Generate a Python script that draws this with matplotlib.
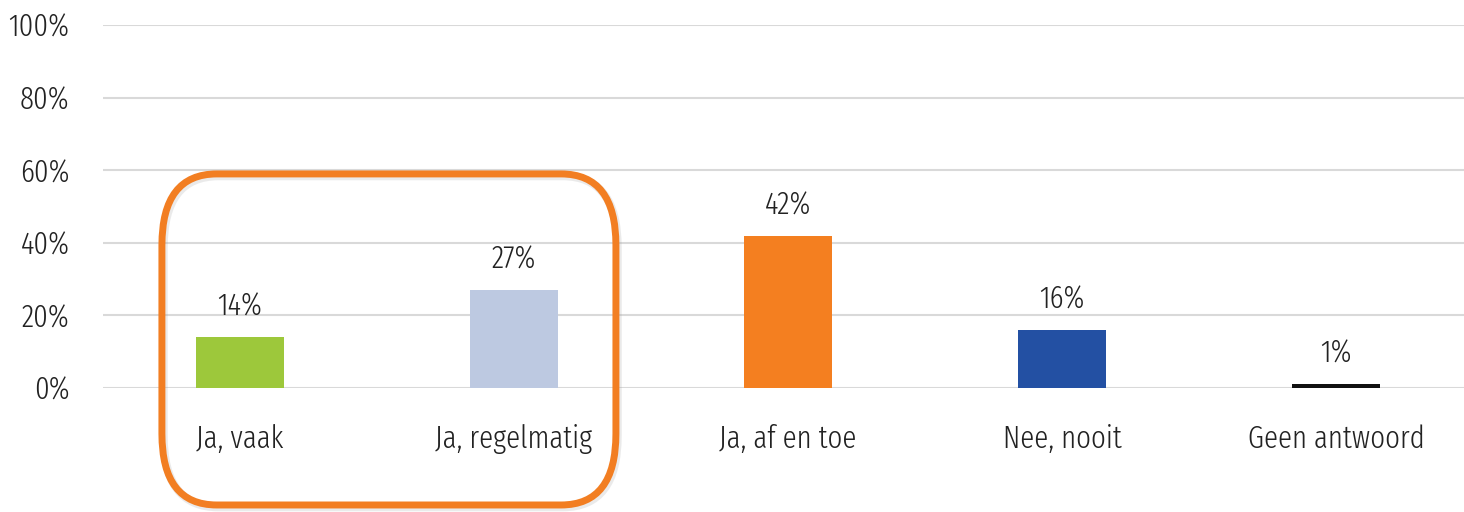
import numpy as np
import matplotlib.pyplot as plt
from matplotlib.patches import FancyBboxPatch
from matplotlib.ticker import PercentFormatter

categories = ["Ja, vaak", "Ja, regelmatig", "Ja, af en toe", "Nee, nooit", "Geen antwoord"]
values = [14, 27, 42, 16, 1]
colors = ["#9DC83B", "#BDC9E1", "#F47F20", "#2350A3", "#111111"]
yticks = [0, 20, 40, 60, 80, 100]

plt.rcParams['font.family'] = ['Fira Sans Extra Condensed', 'DejaVu Sans']
plt.rcParams['font.weight'] = 300

fig = plt.figure(figsize=(14.64, 5.12), dpi=100)
# 274 px per category, starting at x=103 px; right side runs off the canvas
ax = fig.add_axes([103 / 1464, 0.242, 1370 / 1464, 0.709])

x = np.arange(len(categories))
bars = ax.bar(x, values, width=0.318, color=colors, zorder=3)

for b, v in zip(bars, values):
    ax.annotate(f"{v}%", (b.get_x() + b.get_width() / 2, v),
                xytext=(0, 11), textcoords="offset points",
                ha="center", va="bottom", fontsize=22.5, color="#222222")

ax.set_xlim(-0.5, len(categories) - 0.5)
ax.set_ylim(0, 100)
ax.set_yticks(yticks)
ax.yaxis.set_major_formatter(PercentFormatter(decimals=0))
ax.set_xticks(x)
ax.set_xticklabels(categories)
ax.tick_params(axis="both", length=0, labelsize=22.5, colors="#222222")
ax.tick_params(axis="y", pad=24)
ax.tick_params(axis="x", pad=26)
ax.grid(axis="y", color="#D9D9D9", linewidth=1.5, zorder=0)
for s in ax.spines.values():
    s.set_visible(False)

# rounded frame around the first two bars
x0, x1 = -0.285, 1.372
y0, y1 = -32.2, 59.0
aspect = 100 * 274 / 363 * 1.3
shadow = FancyBboxPatch((x0 + 0.006, y0 - 0.6), x1 - x0, y1 - y0,
                        boxstyle="round,pad=0,rounding_size=0.2",
                        mutation_aspect=aspect, fill=False,
                        edgecolor="#999999", alpha=0.2, linewidth=6,
                        clip_on=False, zorder=4)
frame = FancyBboxPatch((x0, y0), x1 - x0, y1 - y0,
                       boxstyle="round,pad=0,rounding_size=0.2",
                       mutation_aspect=aspect, fill=False,
                       edgecolor="#F27E22", linewidth=5,
                       clip_on=False, zorder=5)
ax.add_patch(shadow)
ax.add_patch(frame)

fig.savefig("out.png", dpi=100)
